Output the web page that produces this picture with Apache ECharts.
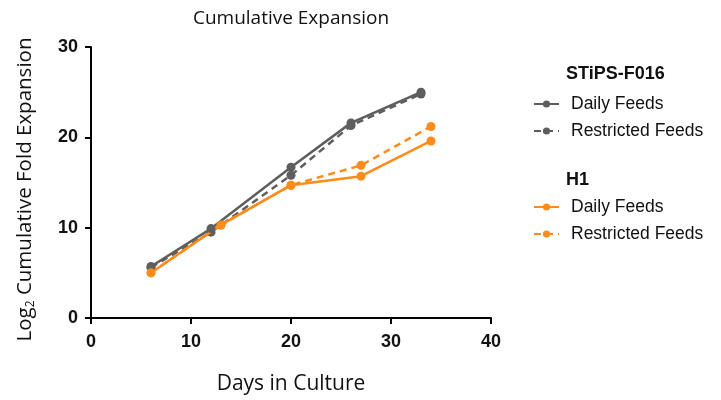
<!DOCTYPE html>
<html>
<head>
<meta charset="utf-8">
<script src="https://cdn.jsdelivr.net/npm/echarts@6/dist/echarts.min.js"></script>
<style>
html,body{margin:0;padding:0;background:#fff;}
#main{width:721px;height:400px;}
</style>
</head>
<body>
<div id="main"></div>
<script>
// Data
const stipsDailyDays = [6, 12, 20, 26, 33];
const stipsDailyValues = [5.7, 9.9, 16.7, 21.6, 25.0];
const stipsRestrictedDays = [6, 12, 20, 26, 33];
const stipsRestrictedValues = [5.6, 9.5, 15.8, 21.3, 24.8];
const h1DailyDays = [6, 13, 20, 27, 34];
const h1DailyValues = [5.0, 10.3, 14.7, 15.7, 19.6];
const h1RestrictedDays = [6, 13, 20, 27, 34];
const h1RestrictedValues = [5.0, 10.3, 14.7, 16.9, 21.2];
const xTicks = [0, 10, 20, 30, 40];
const yTicks = [0, 10, 20, 30];

const GREY = '#5e5e5e';
const ORANGE = '#ff8c1a';

function pairs(xs, ys) { return xs.map((x, i) => [x, ys[i]]); }

function mkSeries(name, xs, ys, color, dashed) {
  return {
    name: name,
    type: 'line',
    data: pairs(xs, ys),
    symbol: 'circle',
    symbolSize: 9,
    showSymbol: true,
    itemStyle: { color: color },
    lineStyle: { color: color, width: 2.5, type: dashed ? [7, 5] : 'solid' },
    emphasis: { disabled: true },
    animation: false,
    z: dashed ? 2 : 3
  };
}

const chart = echarts.init(document.getElementById('main'), null, { renderer: 'canvas' });

const legendCommon = {
  orient: 'vertical',
  left: 528,
  itemWidth: 25,
  itemHeight: 9,
  itemGap: 9,
  textStyle: { fontFamily: 'Liberation Sans', fontSize: 17.5, color: '#111', padding: [0, 0, 0, 7] },
  formatter: function (n) { return n.indexOf('Daily') >= 0 ? 'Daily Feeds' : 'Restricted Feeds'; },
  selectedMode: false
};

chart.setOption({
  animation: false,
  title: {
    text: 'Cumulative Expansion',
    left: 286,
    top: 4,
    textAlign: 'center',
    textStyle: { fontFamily: 'Open Sans', fontSize: 19, fontWeight: 'normal', color: '#111' }
  },
  grid: { left: 91, right: 230, top: 47, bottom: 82, containLabel: false },
  legend: [
    Object.assign({}, legendCommon, { top: 90, data: ['STiPS Daily', 'STiPS Restricted'] }),
    Object.assign({}, legendCommon, { top: 193, data: ['H1 Daily', 'H1 Restricted'] })
  ],
  graphic: [
    { type: 'text', left: 566, top: 65, style: { text: 'STiPS-F016', fontFamily: 'Liberation Sans', fontWeight: 'bold', fontSize: 18, fill: '#111' } },
    { type: 'text', left: 566, top: 171, style: { text: 'H1', fontFamily: 'Liberation Sans', fontWeight: 'bold', fontSize: 18, fill: '#111' } }
  ],
  xAxis: {
    type: 'value',
    min: xTicks[0],
    max: xTicks[xTicks.length - 1],
    interval: 10,
    name: 'Days in Culture',
    nameLocation: 'middle',
    nameGap: 56,
    nameTextStyle: { fontFamily: 'Open Sans', fontSize: 21, color: '#111' },
    axisLine: { show: true, onZero: false, lineStyle: { color: '#000', width: 2 } },
    axisTick: { show: true, length: 6, lineStyle: { color: '#000', width: 2 } },
    axisLabel: { fontFamily: 'Liberation Sans', fontWeight: 'bold', fontSize: 18, color: '#111', margin: 15 },
    splitLine: { show: false }
  },
  yAxis: {
    type: 'value',
    min: yTicks[0],
    max: yTicks[yTicks.length - 1],
    interval: 10,
    name: 'Log{sub|2} Cumulative Fold Expansion',
    nameLocation: 'middle',
    nameGap: 54,
    nameTextStyle: {
      fontFamily: 'Open Sans', fontSize: 20.5, color: '#111',
      padding: [0, 14, 0, 0],
      rich: { sub: { fontFamily: 'Open Sans', fontSize: 12, color: '#111', padding: [12, 0, 0, 0] } }
    },
    axisLine: { show: true, onZero: false, lineStyle: { color: '#000', width: 2 } },
    axisTick: { show: true, length: 6, lineStyle: { color: '#000', width: 2 } },
    axisLabel: { fontFamily: 'Liberation Sans', fontWeight: 'bold', fontSize: 18, color: '#111', margin: 13 },
    splitLine: { show: false }
  },
  series: [
    mkSeries('STiPS Restricted', stipsRestrictedDays, stipsRestrictedValues, GREY, true),
    mkSeries('STiPS Daily', stipsDailyDays, stipsDailyValues, GREY, false),
    mkSeries('H1 Restricted', h1RestrictedDays, h1RestrictedValues, ORANGE, true),
    mkSeries('H1 Daily', h1DailyDays, h1DailyValues, ORANGE, false)
  ]
});
</script>
</body>
</html>
